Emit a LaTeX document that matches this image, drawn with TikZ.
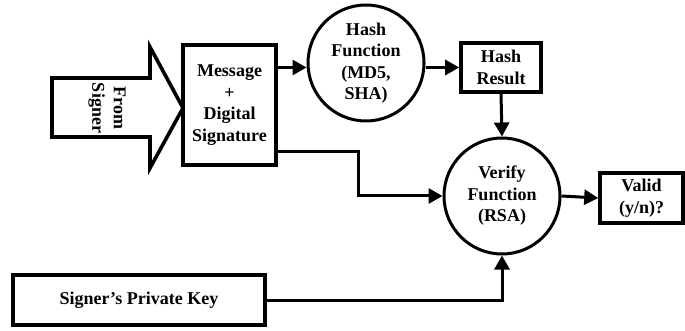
\documentclass[tikz,border=0pt]{standalone}
\usepackage{fontspec}
\setmainfont{Liberation Serif}
\usetikzlibrary{arrows.meta}
\begin{document}
\begin{tikzpicture}[x=1pt,y=-1pt,
  line width=3pt,
  lbl/.style={font=\fontsize{18}{21.5}\selectfont\bfseries, align=center},
  box/.style={draw, lbl, inner sep=0pt, line width=3.6pt},
  circ/.style={draw, circle, lbl, minimum size=116pt, inner sep=0pt, line width=3pt},
  arr/.style={-{Triangle[length=14pt,width=15pt]}, line width=3pt}]
\useasboundingbox (0,0) rectangle (685,331);

% large block arrow coming in from the signer
\draw[line width=3.6pt, line join=miter] (52,78) -- (150,78) -- (150,47) -- (183,108)
  -- (150,168) -- (150,137) -- (52,137) -- cycle;
\node[lbl, rotate=-90] (from) at (107,108) {From\\Signer};

% blocks
\node[box, minimum width=93pt, minimum height=120pt] (msg) at (229.5,105)
  {Message\\+\\Digital\\Signature};
\node[circ] (hash) at (366,63) {Hash\\Function\\(MD5,\\SHA)};
\node[box, minimum width=80pt, minimum height=49pt] (hr) at (501,67.5) {Hash\\Result};
\node[circ] (verify) at (502,196) {Verify\\Function\\(RSA)};
\node[box, minimum width=83pt, minimum height=50pt] (valid) at (641.5,198) {Valid\\(y/n)?};
\node[box, minimum width=252pt, minimum height=50pt] (key) at (139,300) {Signer’s Private Key};

% connectors
\draw[arr] (msg.east |- hr.west) -- (hash.west |- hr.west);
\draw[arr] (hash.east |- hr.west) -- (hr.west);
\draw[arr] (hr.south) -- (verify.north);
\coordinate (bend) at (358,152);
\draw[arr] (msg.east |- bend) -- (bend) |- (verify.west);
\draw[arr] (verify.east) -- (valid.west);
\draw[arr] (key.east) -| (verify.south);
\end{tikzpicture}
\end{document}
